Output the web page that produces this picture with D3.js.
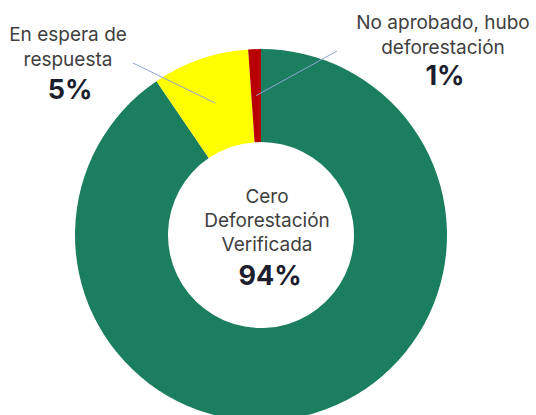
<!DOCTYPE html>
<html>
<head>
<meta charset="utf-8">
<script src="https://cdn.jsdelivr.net/npm/d3@7"></script>
<style>
  body { margin: 0; background: #fff; }
  svg { display: block; font-family: Inter, "Noto Sans", sans-serif; }
</style>
</head>
<body>
<div id="chart"></div>
<script>
// categories, slice shares (as drawn) and the printed percentages
const categories = ["Cero Deforestación Verificada", "En espera de respuesta", "No aprobado, hubo deforestación"];
const shares = [90.5, 8.4, 1.1];
const percentLabels = ["94%", "5%", "1%"];
const colors = ["#1b7f5f", "#ffff00", "#b80000"];

const width = 536, height = 415;
const cx = 261, cy = 235;
const outerR = 186, innerR = 93;

const svg = d3.select("#chart")
    .append("svg")
    .attr("width", width)
    .attr("height", height);

const g = svg.append("g")
    .attr("transform", `translate(${cx},${cy})`);

const data = categories.map((c, i) => ({ name: c, value: shares[i], pct: percentLabels[i], color: colors[i] }));

const pie = d3.pie()
    .sort(null)
    .value(d => d.value);

const arc = d3.arc()
    .innerRadius(innerR)
    .outerRadius(outerR);

const arcs = pie(data);

// slices
g.selectAll("path")
    .data(arcs)
    .join("path")
    .attr("d", arc)
    .attr("fill", d => d.data.color);

// outside labels: lines of text, anchor of the leader line
const outside = [
    { i: 1, x: 68, lines: ["En espera de", "respuesta"], y0: 41, pctY: 99, lineFrom: [133, 63] },
    { i: 2, x: 443, lines: ["No aprobado, hubo", "deforestación"], y0: 29, pctY: 85, lineFrom: [337, 51] }
];

outside.forEach(o => {
    const c = arc.centroid(arcs[o.i]);
    svg.append("line")
        .attr("x1", o.lineFrom[0])
        .attr("y1", o.lineFrom[1])
        .attr("x2", cx + c[0])
        .attr("y2", cy + c[1])
        .attr("stroke", "#8fa6d6")
        .attr("stroke-width", 1);

    const t = svg.append("text")
        .attr("text-anchor", "middle")
        .attr("fill", "#404040")
        .style("font-size", "19px");
    o.lines.forEach((l, k) => {
        t.append("tspan")
            .attr("x", o.x)
            .attr("y", o.y0 + k * 24.5)
            .text(l);
    });
    svg.append("text")
        .attr("x", o.x + 2)
        .attr("y", o.pctY)
        .attr("text-anchor", "middle")
        .attr("fill", "#1c1e2e")
        .style("font-size", "27px")
        .style("font-weight", "bold")
        .text(arcs[o.i].data.pct);
});

// centre label
const centerLines = ["Cero", "Deforestación", "Verificada"];
const ct = svg.append("text")
    .attr("text-anchor", "middle")
    .attr("fill", "#404040")
    .style("font-size", "19px");
centerLines.forEach((l, k) => {
    ct.append("tspan")
        .attr("x", 267)
        .attr("y", 203 + k * 24)
        .text(l);
});
svg.append("text")
    .attr("x", 270)
    .attr("y", 285)
    .attr("text-anchor", "middle")
    .attr("fill", "#1c1e2e")
    .style("font-size", "27px")
    .style("font-weight", "bold")
    .text(arcs[0].data.pct);
</script>
</body>
</html>
